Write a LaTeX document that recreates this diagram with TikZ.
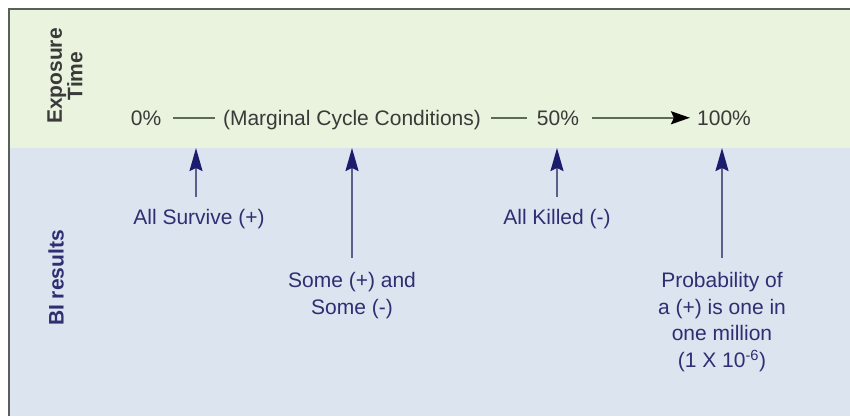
\documentclass[tikz,border=0pt]{standalone}
\usepackage{fontspec}
\setmainfont{Liberation Sans}
\usetikzlibrary{arrows.meta}
\definecolor{topbg}{HTML}{E9F3DD}
\definecolor{botbg}{HTML}{DCE4EF}
\definecolor{framec}{HTML}{5A5F5A}
\definecolor{toptext}{HTML}{3A3A3A}
\definecolor{navytext}{HTML}{2E2F72}
\definecolor{headc}{HTML}{1C1C6E}
\definecolor{shaftc}{HTML}{5E5E8E}
\definecolor{hlinec}{HTML}{5C6A58}
\tikzset{
  toplbl/.style={anchor=base, inner sep=0pt, text=toptext, font=\fontsize{21}{26}\selectfont},
  botlbl/.style={anchor=north, inner sep=0pt, text=navytext, align=center, font=\fontsize{21}{26.7}\selectfont},
  sidelbl/.style={inner sep=0pt, rotate=90, align=center, font=\bfseries\fontsize{21}{18}\selectfont},
  hline/.style={draw=hlinec, line width=2pt},
  harrow/.style={draw=hlinec, line width=2pt, -{Stealth[length=19pt,width=13pt,inset=3pt,color=black]}},
  uparrow/.style={draw=shaftc, line width=1.8pt, -{Stealth[length=23pt,width=13pt,inset=3pt,color=headc]}},
}
\begin{document}
\begin{tikzpicture}[x=1pt,y=-1pt]
\useasboundingbox (0,0) rectangle (850,416);
\fill[white] (0,0) rectangle (850,416);
\fill[topbg] (9,9) rectangle (850,148);
\fill[botbg] (9,148) rectangle (850,416);
\draw[framec, line width=1.5pt] (9,416) -- (9,9) -- (850,9);

% side labels
\node[sidelbl, text=toptext] (exp) at (65,76) {Exposure\\Time};
\node[sidelbl, text=navytext] (bir) at (56,278) {BI results};

% top row
\node[toplbl] (p0) at (146,125) {0\%};
\node[toplbl] (mc) at (352,125) {(Marginal Cycle Conditions)};
\node[toplbl] (p50) at (558,125) {50\%};
\node[toplbl] (p100) at (724,125) {100\%};
\draw[hline] ([xshift=12pt]p0.east) -- ([xshift=-8pt]p0.east -| mc.west);
\draw[hline] ([xshift=10pt]p0.east -| mc.east) -- ([xshift=-10pt]p0.east -| p50.west);
\draw[harrow] ([xshift=13pt]p0.east -| p50.east) -- ([xshift=-7pt]p0.east -| p100.west);

% band-boundary tips
\coordinate (t1) at (196,148);
\coordinate (t2) at (352,148);
\coordinate (t3) at (557,148);
\coordinate (t4) at (722,148);

% bottom labels
\node[botlbl] (s1) at (199,209) {All Survive (+)};
\node[botlbl] (s2) at (352,272) {Some (+) and\\Some (-)};
\node[botlbl] (s3) at (557,209) {All Killed (-)};
\node[botlbl] (s4) at (722,272) {Probability of\\a (+) is one in\\one million\\(1 X 10\textsuperscript{-6})};

\draw[uparrow] (s1.north -| t1) ++(0,-12) -- (t1);
\draw[uparrow] (s2.north -| t2) ++(0,-14) -- (t2);
\draw[uparrow] (s3.north -| t3) ++(0,-12) -- (t3);
\draw[uparrow] (s4.north -| t4) ++(0,-14) -- (t4);
\end{tikzpicture}
\end{document}
